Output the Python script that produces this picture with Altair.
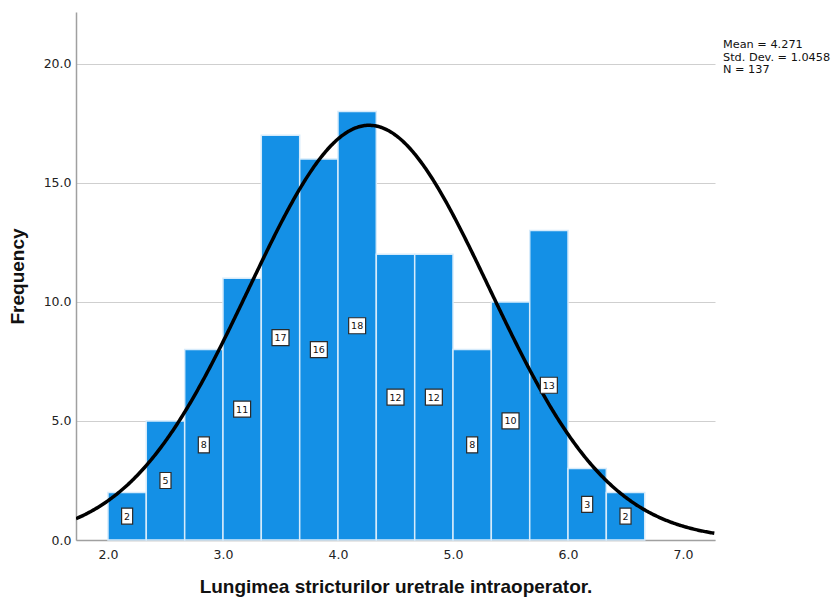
import altair as alt
import pandas as pd

# Histogram of stricture length (bins of 1/3 unit)
bin_left = [2.000, 2.333, 2.667, 3.000, 3.333, 3.667, 4.000,
            4.333, 4.667, 5.000, 5.333, 5.667, 6.000, 6.333]
bin_right = [2.333, 2.667, 3.000, 3.333, 3.667, 4.000, 4.333,
             4.667, 5.000, 5.333, 5.667, 6.000, 6.333, 6.667]
counts = [2, 5, 8, 11, 17, 16, 18, 12, 12, 8, 10, 13, 3, 2]

# Summary statistics shown in the corner and used for the normal curve
mean_len = 4.271
sd_len = 1.0458
n_obs = 137
bin_width = 1 / 3

x_ticks = [2, 3, 4, 5, 6, 7]
y_ticks = [0, 5, 10, 15, 20]
x_domain = [1.722, 7.278]
y_domain = [0, 22.18]

bars_df = pd.DataFrame({"lo": bin_left, "hi": bin_right, "count": counts})

BAR_BLUE = "#1490E6"
TICK_FONT = "DejaVu Sans"
TITLE_FONT = "Liberation Sans"

x_scale = alt.Scale(domain=x_domain, nice=False, zero=False)
y_scale = alt.Scale(domain=y_domain, nice=False)

x_axis = alt.Axis(values=x_ticks, format=".1f", title="Lungimea stricturilor uretrale intraoperator.",
                  grid=False, ticks=False, labelPadding=8, labelFontSize=12.5,
                  labelFont=TICK_FONT, labelColor="#222", domainColor="#a0a0a0", domainWidth=1.5,
                  titleFont=TITLE_FONT, titleFontSize=19, titleFontWeight="bold",
                  titleColor="#111", titlePadding=17)
y_axis = alt.Axis(values=y_ticks, format=".1f", title="Frequency", grid=True,
                  gridColor="#cfcfcf", gridWidth=1.2, ticks=False, labelPadding=5,
                  labelFontSize=12.5, labelFont=TICK_FONT, labelColor="#222",
                  domainColor="#a0a0a0", domainWidth=1.5,
                  titleFont=TITLE_FONT, titleFontSize=19, titleFontWeight="bold",
                  titleColor="#111", titlePadding=16)

bars = alt.Chart(bars_df).mark_rect(
    fill=BAR_BLUE, stroke="#d6ebfb", strokeWidth=1.5
).encode(
    x=alt.X("lo:Q", scale=x_scale, axis=x_axis),
    x2="hi:Q",
    y=alt.Y("count:Q", scale=y_scale, axis=y_axis),
    y2=alt.datum(0),
)

# Fitted normal curve, scaled to counts per bin
curve = alt.Chart(alt.sequence(x_domain[0], x_domain[1] + 0.001, 0.01, as_="x")).transform_calculate(
    y=f"{n_obs} * {bin_width} / ({sd_len} * sqrt(2 * PI)) * exp(-0.5 * pow((datum.x - {mean_len}) / {sd_len}, 2))"
).mark_line(color="black", strokeWidth=3.5, clip=True).encode(
    x=alt.X("x:Q", scale=x_scale),
    y=alt.Y("y:Q", scale=y_scale),
)

box_narrow = "M-0.69,-1L0.69,-1L0.69,1L-0.69,1Z"
box_wide = "M-1.06,-1L1.06,-1L1.06,1L-1.06,1Z"

labels_base = alt.Chart(bars_df).transform_calculate(
    mid="(datum.lo + datum.hi) / 2",
    half="datum.count / 2",
    kind="datum.count >= 10 ? 'wide' : 'narrow'",
)

boxes = labels_base.mark_point(
    filled=True, fill="white", stroke="#2a2a2a", strokeWidth=1.2, opacity=1, size=256
).encode(
    x=alt.X("mid:Q", scale=x_scale),
    y=alt.Y("half:Q", scale=y_scale),
    shape=alt.Shape("kind:N", scale=alt.Scale(domain=["narrow", "wide"], range=[box_narrow, box_wide]),
                    legend=None),
)

texts = labels_base.mark_text(
    font=TICK_FONT, fontSize=9.5, color="#111", baseline="middle", align="center", dy=0.5
).encode(
    x=alt.X("mid:Q", scale=x_scale),
    y=alt.Y("half:Q", scale=y_scale),
    text="count:Q",
)

stats_lines = [f"Mean = {mean_len}", f"Std. Dev. = {sd_len}", f"N = {n_obs}"]
stats = alt.Chart(pd.DataFrame({"t": ["\n".join(stats_lines)]})).mark_text(
    font=TICK_FONT, fontSize=11.3, color="#111", align="left", baseline="top",
    lineBreak="\n", lineHeight=12.5,
).encode(
    x=alt.value(647),
    y=alt.value(27),
    text="t:N",
)

chart = alt.layer(bars, curve, boxes, texts, stats).properties(
    width=639, height=528,
    autosize=alt.AutoSizeParams(type="none"),
    padding={"left": 76, "top": 12, "right": 123, "bottom": 59},
    background="white",
).configure_view(stroke=None)

chart.save("out.html", embed_options={"renderer": "svg", "actions": False})
